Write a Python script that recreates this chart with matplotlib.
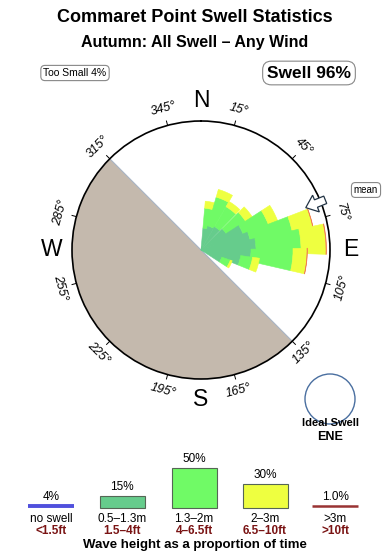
import numpy as np
import matplotlib
matplotlib.use("Agg")
import matplotlib.pyplot as plt
from matplotlib.patches import Circle, Rectangle, Polygon

plt.rcParams['font.family'] = ['Liberation Sans', 'DejaVu Sans']

# swell direction bins (degrees, compass) and stacked radial amounts per height class
directions = [12, 23, 37, 52, 64, 76, 85, 96, 105, 116]
teal_vals = [22, 25, 27, 30, 45, 50, 55, 50, 40, 22]     # 0.5-1.3m
green_vals = [20, 30, 23, 23, 27, 43, 45, 42, 12, 9]     # 1.3-2m
yellow_vals = [7, 8, 6, 8, 10, 21, 25, 14, 7, 2]         # 2-3m
red_vals = [0, 0, 0, 0, 0, 0.4, 0.5, 0.4, 0, 0]          # >3m
rmax = 129
mean_dir = 68

tick_angles = [15, 45, 75, 105, 135, 165, 195, 225, 255, 285, 315, 345]
land_from, land_to = 135, 315

# legend
leg_pct = [4, 15, 50, 30, 1.0]
leg_pct_txt = ["4%", "15%", "50%", "30%", "1.0%"]
leg_m = ["no swell", "0.5\u20131.3m", "1.3\u20132m", "2\u20133m", ">3m"]
leg_ft = ["<1.5ft", "1.5\u20134ft", "4\u20136.5ft", "6.5\u201310ft", ">10ft"]
leg_colors = ["#5050dd", "#66cc8c", "#70fa66", "#eeff40", "#993333"]
rose_colors = ['#66cc8c', '#70fa66', '#eeff40', '#f08050']

fig = plt.figure(figsize=(3.9, 5.6), dpi=100)

# rose axes
cx, cy = 201, 250
ax = fig.add_axes([(cx - rmax) / 390, 1 - (cy + rmax) / 560, 2 * rmax / 390, 2 * rmax / 560],
                  projection='polar')
ax.set_theta_zero_location('N')
ax.set_theta_direction(-1)
ax.set_ylim(0, rmax)
ax.grid(False)
ax.set_xticks([])
ax.set_yticks([])
ax.spines['polar'].set_linewidth(1.2)
ax.set_facecolor('white')

# land sector
land_w = np.deg2rad(land_to - land_from)
ax.bar(np.deg2rad((land_from + land_to) / 2), rmax, width=land_w, bottom=0,
       color='#c4b9ad', edgecolor='none', zorder=1)
ax.plot([np.deg2rad(land_from), 0, np.deg2rad(land_to)], [rmax, 0, rmax],
        color='#a8b4c4', lw=0.8, zorder=1.5)

# stacked wedges, one direction at a time
w = np.deg2rad(14)
for k, d in enumerate(directions):
    bottom = 0.0
    for vals, col in zip([teal_vals, green_vals, yellow_vals, red_vals], rose_colors):
        v = vals[k]
        if v > 0:
            ax.bar(np.deg2rad(d), v, width=w, bottom=bottom, color=col, edgecolor=col,
                   lw=0.4, zorder=2 + k * 0.01)
        bottom += v

# ticks and labels around the circle
for a in tick_angles:
    t = np.deg2rad(a)
    ax.plot([t, t], [rmax, rmax * 1.035], color='black', lw=0.7, clip_on=False)
    rot = -a if np.cos(t) >= 0 else 180 - a
    ax.text(t, rmax * 1.13, f"{a}\u00b0", rotation=rot, ha='center', va='center',
            fontsize=9, fontstyle='italic', clip_on=False)

for a, lab in [(0, 'N'), (90, 'E'), (180, 'S'), (270, 'W')]:
    ax.text(np.deg2rad(a), rmax * 1.16, lab, ha='center', va='center', fontsize=16.5,
            clip_on=False)

# overlay for texts and legend
ov = fig.add_axes([0, 0, 1, 1], facecolor='none')
ov.set_xlim(0, 390)
ov.set_ylim(560, 0)
ov.axis('off')

# mean direction arrow (block arrow pointing inward)
tm = np.deg2rad(mean_dir)
u = np.array([np.sin(tm), -np.cos(tm)])      # outward, overlay pixel coords
n = np.array([np.cos(tm), np.sin(tm)])       # perpendicular
c0 = np.array([cx, cy])
pts = [c0 + 113 * u,
       c0 + 124 * u + 9 * n,
       c0 + 124 * u + 4 * n,
       c0 + 134 * u + 4 * n,
       c0 + 134 * u - 4 * n,
       c0 + 124 * u - 4 * n,
       c0 + 124 * u - 9 * n]
ov.add_patch(Polygon(pts, closed=True, fc='white', ec='#223344', lw=0.9, zorder=5))

ov.text(195, 18, "Commaret Point Swell Statistics", ha='center', va='center',
        fontsize=13, fontweight='bold')
ov.text(195, 42, "Autumn: All Swell \u2013 Any Wind", ha='center', va='center',
        fontsize=11.5, fontweight='bold')

box = dict(boxstyle='round,pad=0.25,rounding_size=0.4', fc='white', ec='#888888', lw=0.8)
ov.text(75, 73, "Too Small 4%", ha='center', va='center', fontsize=7.5, bbox=box)
ov.text(309, 73, "Swell 96%", ha='center', va='center', fontsize=12.5, fontweight='bold',
        bbox=dict(boxstyle='round,pad=0.25,rounding_size=0.5', fc='white', ec='#888888', lw=0.8))
ov.text(366, 190, "mean", ha='center', va='center', fontsize=7, bbox=box)

ov.add_patch(Circle((330, 399), 25, fc='white', ec='#4a6fa0', lw=1.0))
ov.text(330, 423, "Ideal Swell", ha='center', va='center', fontsize=8, fontweight='bold')
ov.text(330, 437, "ENE", ha='center', va='center', fontsize=9, fontweight='bold')

# legend bars
xs = [51, 122, 194, 265, 335]
base = 508
scale = 0.8
bw = 45
for i, (x, p) in enumerate(zip(xs, leg_pct)):
    if i in (0, 4):
        ov.plot([x - 23, x + 23], [base - 2, base - 2], color=leg_colors[i],
                lw=2.8 if i == 0 else 1.8, solid_capstyle='butt')
        top = base - 2
    else:
        h = p * scale
        ov.add_patch(Rectangle((x - bw / 2, base - h), bw, h, fc=leg_colors[i],
                               ec='#556655', lw=0.8))
        top = base - h
    ov.text(x, top - 9, leg_pct_txt[i], ha='center', va='center', fontsize=8.5)
    ov.text(x, 519, leg_m[i], ha='center', va='center', fontsize=8.5)
    ov.text(x, 531, leg_ft[i], ha='center', va='center', fontsize=8.5,
            color='#7a1414', fontweight='bold')

ov.text(195, 545, "Wave height as a proportion of time", ha='center', va='center',
        fontsize=9.5, fontweight='bold')

fig.savefig("out.png", dpi=100)
